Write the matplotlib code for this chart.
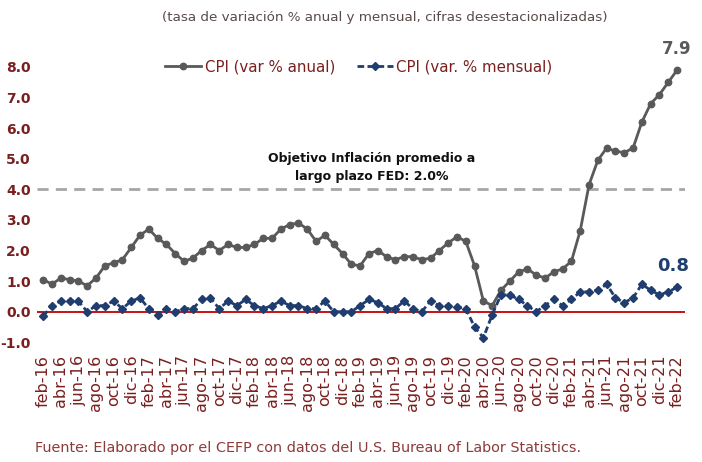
import matplotlib
matplotlib.use("Agg")
import matplotlib.pyplot as plt
import numpy as np

# ---- data ----
months = ["ene", "feb", "mar", "abr", "may", "jun", "jul", "ago", "sep", "oct", "nov", "dic"]
periods = [f"{months[(m) % 12]}-{16 + (m) // 12}" for m in range(1, 74)]  # feb-16 .. feb-22

cpi_anual = [
    1.05, 0.9, 1.1, 1.05, 1.0, 0.85, 1.1, 1.5, 1.6, 1.7, 2.1,
    2.5, 2.7, 2.4, 2.2, 1.9, 1.65, 1.75, 2.0, 2.2, 2.0, 2.2, 2.1,
    2.1, 2.2, 2.4, 2.4, 2.7, 2.85, 2.9, 2.7, 2.3, 2.5, 2.2, 1.9,
    1.55, 1.5, 1.9, 2.0, 1.8, 1.7, 1.8, 1.8, 1.7, 1.75, 2.0, 2.25,
    2.45, 2.3, 1.5, 0.35, 0.2, 0.7, 1.0, 1.3, 1.4, 1.2, 1.1, 1.3,
    1.4, 1.65, 2.65, 4.15, 4.95, 5.35, 5.25, 5.2, 5.35, 6.2, 6.8, 7.1,
    7.5, 7.9,
]
cpi_mensual = [
    -0.15, 0.2, 0.35, 0.35, 0.35, 0.0, 0.2, 0.2, 0.35, 0.1, 0.35,
    0.45, 0.1, -0.1, 0.1, 0.0, 0.1, 0.1, 0.4, 0.45, 0.1, 0.35, 0.2,
    0.4, 0.2, 0.1, 0.2, 0.35, 0.2, 0.2, 0.1, 0.1, 0.35, 0.0, 0.0,
    0.0, 0.2, 0.4, 0.3, 0.1, 0.1, 0.35, 0.1, 0.0, 0.35, 0.2, 0.2,
    0.15, 0.1, -0.5, -0.85, -0.1, 0.55, 0.55, 0.4, 0.2, 0.0, 0.2, 0.4,
    0.2, 0.4, 0.65, 0.65, 0.7, 0.9, 0.45, 0.3, 0.45, 0.9, 0.7, 0.55,
    0.65, 0.8,
]
objetivo = 4.0
yticks = [-1, 0, 1, 2, 3, 4, 5, 6, 7, 8]

# ---- style ----
maroon = "#7A1F1F"
maroon_light = "#8C3B3B"
gray = "#595959"
navy = "#1F3D6E"

fig = plt.figure(figsize=(7.02, 4.62), dpi=100)
ax = fig.add_axes([37 / 702, (462 - 342.3) / 462, 648 / 702, (342.3 - 67) / 462])

x = np.arange(len(periods))
ax.set_xlim(-0.7, len(periods) - 1 + 0.9)
ax.set_ylim(-1, 8)

ax.axhline(0, color="#C00000", lw=1.3, zorder=1)
ax.axhline(objetivo, color="#A6A6A6", lw=2, dashes=(4, 2.6), zorder=1)

ax.plot(x, cpi_anual, color=gray, lw=2.0, marker="o", ms=4.6, zorder=3,
        label="CPI (var % anual)", clip_on=False)
ax.plot(x, cpi_mensual, color=navy, lw=2.0, marker="D", ms=3.6, dashes=(2.4, 1.2),
        zorder=3, label="CPI (var. % mensual)", clip_on=False)

for s in ax.spines.values():
    s.set_visible(False)

ax.set_yticks(yticks)
ax.set_yticklabels([f"{v:.1f}" for v in yticks])
ax.tick_params(axis="y", length=0, pad=4.5, labelsize=10, labelcolor=maroon)
for t in ax.get_yticklabels():
    t.set_fontweight("bold")

ax.set_xticks(x[::2])
ax.set_xticklabels(periods[::2], rotation=90)
ax.tick_params(axis="x", length=0, pad=9, labelsize=11.5, labelcolor=maroon)

ax.text(x[-1], cpi_anual[-1] + 0.38, f"{cpi_anual[-1]:.1f}", ha="center", va="bottom",
        fontsize=12, color=gray, fontweight="bold")
ax.text(x[-1] - 0.5, cpi_mensual[-1] + 0.4, f"{cpi_mensual[-1]:.1f}", ha="center", va="bottom",
        fontsize=13, color=navy, fontweight="bold")

ax.text(37.3, objetivo + 0.22, "Objetivo Inflación promedio a\nlargo plazo FED: 2.0%",
        ha="center", va="bottom", fontsize=9, fontweight="bold", color="#111111",
        linespacing=1.5)

leg = ax.legend(loc="center", bbox_to_anchor=(0.497, 1.0), ncol=2, frameon=False,
                fontsize=10.8, handlelength=2.4, handletextpad=0.25, columnspacing=1.4)
for t in leg.get_texts():
    t.set_color(maroon)

fig.text(385 / 702, 1 - 17 / 462, "(tasa de variación % anual y mensual, cifras desestacionalizadas)",
         ha="center", va="center", fontsize=9.7, color="#5A4A4A")
fig.text(35 / 702, 1 - 448 / 462, "Fuente: Elaborado por el CEFP con datos del U.S. Bureau of Labor Statistics.",
         ha="left", va="center", fontsize=10.4, color=maroon_light)

fig.savefig("out.png", dpi=100)
